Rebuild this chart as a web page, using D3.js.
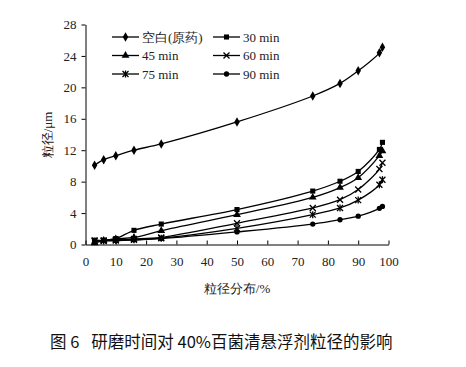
<!DOCTYPE html>
<html><head><meta charset="utf-8">
<script src="https://cdn.jsdelivr.net/npm/d3@7"></script>
<style>
body{margin:0;background:#fff;}
svg{display:block;}
</style></head>
<body><svg id="c" width="466" height="367"></svg>
<script>
const xValues = [3, 6, 10, 16, 25, 50, 75, 84, 90, 97, 98];
const seriesNames = ["空白(原药)", "30 min", "45 min", "60 min", "75 min", "90 min"];
const blank  = [10.1, 10.8, 11.3, 12.0, 12.8, 15.6, 18.9, 20.5, 22.1, 24.4, 25.1];
const min30  = [0.55, 0.55, 0.75, 1.8, 2.6, 4.45, 6.8, 8.05, 9.3, 12.1, 13.0];
const min45  = [0.2, 0.5, 0.7, 0.9, 1.75, 3.8, 6.0, 7.25, 8.5, 11.3, 11.9];
const min60  = [0.5, 0.5, 0.6, 0.7, 0.9, 2.7, 4.65, 5.7, 7.0, 9.6, 10.4];
const min75  = [0.4, 0.45, 0.5, 0.6, 0.8, 2.05, 3.8, 4.65, 5.65, 7.6, 8.25];
const min90  = [0.5, 0.5, 0.5, 0.6, 0.75, 1.6, 2.6, 3.15, 3.6, 4.6, 4.85];
const xTicks = [0,10,20,30,40,50,60,70,80,90,100];
const yTicks = [0,4,8,12,16,20,24,28];
const markers = ["diamond","square","triangle","x","star","circle"];
const allSeries = [blank, min30, min45, min60, min75, min90];

const svg = d3.select("#c");
const x = d3.scaleLinear().domain([0,100]).range([85.5,388.5]);
const y = d3.scaleLinear().domain([0,28]).range([244.5,24.5]);
const serif = "'Liberation Serif','Times New Roman',serif";

// axes
const gy = svg.append("g").attr("transform","translate(85.5,0)")
  .call(d3.axisLeft(y).tickValues(yTicks).tickSize(4).tickPadding(5).tickSizeOuter(0));
const gx = svg.append("g").attr("transform","translate(0,244.5)")
  .call(d3.axisBottom(x).tickValues(xTicks).tickSize(-4).tickPadding(12).tickSizeOuter(0));
[gy,gx].forEach(g=>{
  g.select(".domain").attr("stroke","#000").attr("stroke-width",1);
  g.selectAll(".tick line").attr("stroke","#000");
  g.selectAll("text").attr("font-family",serif).attr("font-size",13).attr("fill","#222");
});

function sym(type){
  switch(type){
    case "diamond": return d3.symbol(d3.symbolDiamond, 26)();
    case "square": return d3.symbol(d3.symbolSquare, 26)();
    case "triangle": return d3.symbol(d3.symbolTriangle, 26)();
    case "circle": return d3.symbol(d3.symbolCircle, 22)();
    default: return null;
  }
}
function drawMarker(g, type, cx, cy){
  const s = g.append("g").attr("transform",`translate(${cx},${cy})`);
  if(type==="x"||type==="star"){
    const r=3;
    s.append("path").attr("d",`M${-r},${-r}L${r},${r}M${-r},${r}L${r},${-r}`)
      .attr("stroke","#000").attr("stroke-width",1.3).attr("fill","none");
    if(type==="star"){
      s.append("path").attr("d",`M0,${-r-0.5}L0,${r+0.5}`)
        .attr("stroke","#000").attr("stroke-width",1.3).attr("fill","none");
    }
  } else {
    s.append("path").attr("d",sym(type)).attr("fill","#000");
  }
}

const line = d3.line().x(d=>x(d[0])).y(d=>y(d[1])).curve(d3.curveCatmullRom.alpha(0.5));
allSeries.forEach((vals,i)=>{
  const pts = xValues.map((xv,j)=>[xv, vals[j]]);
  svg.append("path").datum(pts).attr("d",line).attr("fill","none")
    .attr("stroke","#000").attr("stroke-width",1.3);
  const mg = svg.append("g");
  pts.forEach(p=>drawMarker(mg, markers[i], x(p[0]), y(p[1])));
});

// legend
const legendPos = [[112,37],[213,37],[112,55.5],[213,55.5],[112,74],[213,74]];
seriesNames.forEach((name,i)=>{
  const [lx,ly] = legendPos[i];
  svg.append("line").attr("x1",lx).attr("x2",lx+27).attr("y1",ly).attr("y2",ly)
    .attr("stroke","#000").attr("stroke-width",1.3);
  drawMarker(svg, markers[i], lx+13.5, ly);
  svg.append("text").attr("x",lx+30).attr("y",ly+4.5)
    .attr("font-family",serif).attr("font-size",13).attr("fill","#222").text(name);
});

// axis titles
svg.append("text").attr("x",237).attr("y",293).attr("text-anchor","middle")
  .attr("font-family",serif).attr("font-size",13).attr("fill","#222").text("粒径分布/%");
svg.append("text").attr("transform","translate(52,135) rotate(-90)").attr("text-anchor","middle")
  .attr("font-family",serif).attr("font-size",13).attr("fill","#222").text("粒径/μm");

// caption
svg.append("text").attr("x",50).attr("y",348)
  .attr("font-family","'Noto Sans CJK SC','Noto Sans',sans-serif").attr("font-size",16.5)
  .attr("font-weight",400).attr("fill","#111").attr("xml:space","preserve")
  .text("图 6\u2002 研磨时间对 40%百菌清悬浮剂粒径的影响");
</script></body></html>
